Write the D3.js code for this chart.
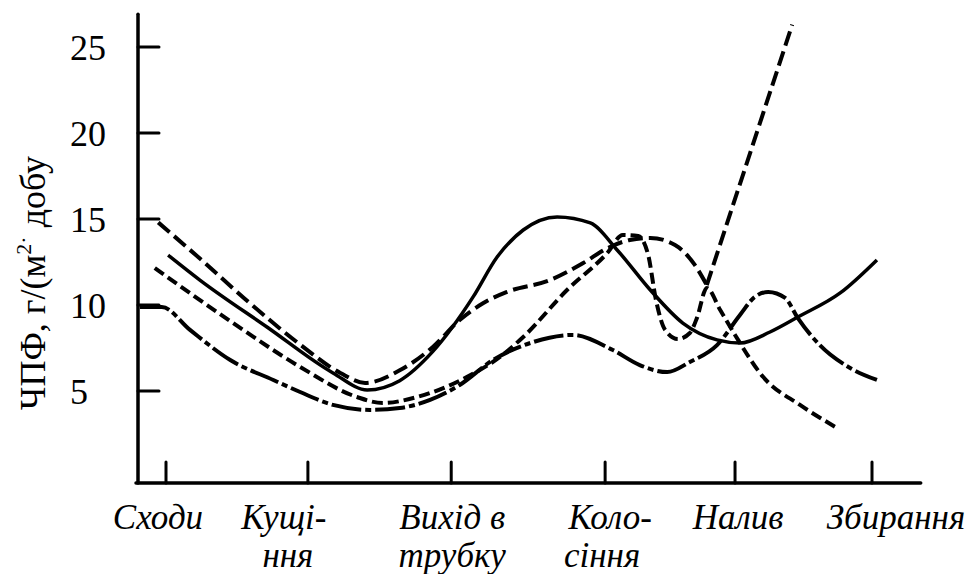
<!DOCTYPE html>
<html><head><meta charset="utf-8">
<script src="https://cdn.jsdelivr.net/npm/d3@7"></script>
<style>
html,body{margin:0;padding:0;background:#fff;}
svg{display:block;}
text{font-family:"Liberation Serif","Times New Roman",serif;fill:#000;}
</style></head>
<body>
<svg id="chart" width="970" height="574"></svg>
<script>
// ---------------- DATA ----------------
const stageLabels = [["Сходи"], ["Кущі-", "ння"], ["Вихід в", "трубку"], ["Коло-", "сіння"], ["Налив"], ["Збирання"]];
const stagePos = [0, 20.1, 40.4, 62.2, 80.6, 100];
const yTicks = [5, 10, 15, 20, 25];
const yTitle = "ЧПФ, г/(м";

// series A: long dash (ends in steep rise)
const seriesA_x = [-1.1, 4.8, 11.9, 19.0, 24.7, 28.2, 33.1, 37.8, 41.6, 44.9, 48.3, 54.4, 59.1, 62.5, 65.7, 68.6, 72.1, 74.9, 76.6, 88.7];
const seriesA_y = [14.8, 12.7, 10.1, 7.7, 6.05, 5.47, 6.2, 7.56, 9.13, 10.1, 10.76, 11.45, 12.44, 13.3, 13.78, 13.9, 13.49, 12.33, 11.16, 26.3];
const seriesA_kink = 18;

// series B: solid
const seriesB_x = [0.3, 4.8, 14.3, 23.65, 28.5, 33.1, 37.8, 43.5, 46.9, 50.6, 55.4, 60.1, 63.9, 68.6, 73.2, 78.05, 81.3, 85.55, 89.5, 95.5, 100.7];
const seriesB_y = [12.9, 11.45, 8.72, 6.05, 5.06, 5.6, 7.3, 10.47, 12.79, 14.36, 15.12, 14.77, 13.2, 10.87, 8.95, 7.97, 7.79, 8.43, 9.3, 10.7, 12.62];

// series C: medium dash
const seriesC_x = [-1.6, 9.5, 19.0, 27.05, 30.7, 35.55, 42.6, 47.3, 50.6, 56.8, 62.5, 64.7, 66.9, 68.3, 69.4, 70.7, 72.5, 74.2, 75.2, 76.6, 78.5, 80.6, 84.6, 89.8, 94.8];
const seriesC_y = [12.15, 8.95, 6.4, 4.65, 4.3, 4.65, 5.81, 6.98, 8.14, 10.87, 13.02, 14.07, 14.01, 12.91, 10.29, 8.55, 8.02, 8.37, 9.24, 10.99, 9.71, 8.26, 5.81, 4.19, 2.91];

// series D: dash-dot
const seriesD_x = [-3.7, -0.6, 3.4, 9.1, 15.2, 19.0, 23.65, 28.9, 33.1, 37.4, 41.6, 46.3, 51.6, 57.65, 63.3, 67.1, 71.0, 74.2, 78.05, 81.3, 83.4, 85.3, 87.7, 89.5, 92.6, 96.9, 100.7];
const seriesD_y = [9.88, 9.88, 8.55, 6.8, 5.64, 4.94, 4.19, 3.9, 4.01, 4.48, 5.35, 6.8, 7.79, 8.26, 7.38, 6.51, 6.1, 6.69, 7.67, 9.42, 10.47, 10.76, 10.41, 9.24, 7.67, 6.34, 5.64];

// ---------------- LAYOUT ----------------
const svg = d3.select("#chart");
const x = d3.scaleLinear().domain([0, 100]).range([166, 872]);
const y = d3.scaleLinear().domain([0, 25]).range([477, 47]);
const xAxisY = 483, yAxisX = 138;

const zip = (xs, ys) => xs.map((v, i) => [v, ys[i]]);
const lineM = d3.line().x(d => x(d[0])).y(d => y(d[1])).curve(d3.curveMonotoneX);
const lineL = d3.line().x(d => x(d[0])).y(d => y(d[1])).curve(d3.curveLinear);

// axes
const axG = svg.append("g").attr("stroke", "#000").attr("fill", "none").attr("stroke-linecap", "round");
axG.append("line").attr("x1", yAxisX).attr("x2", yAxisX).attr("y1", y(26.9)).attr("y2", xAxisY).attr("stroke-width", 3.5);
axG.append("line").attr("x1", yAxisX - 2).attr("x2", x(106.9)).attr("y1", xAxisY).attr("y2", xAxisY).attr("stroke-width", 3.5);
axG.selectAll(".yt").data(yTicks).enter().append("line")
  .attr("x1", yAxisX).attr("x2", yAxisX + 21).attr("y1", d => y(d)).attr("y2", d => y(d)).attr("stroke-width", 3);
axG.selectAll(".xt").data(stagePos).enter().append("line")
  .attr("x1", d => x(d)).attr("x2", d => x(d)).attr("y1", xAxisY - 21).attr("y2", xAxisY).attr("stroke-width", 3);

// y tick labels
svg.selectAll(".ytl").data(yTicks).enter().append("text")
  .attr("x", 70).attr("y", d => y(d)).attr("dy", "0.35em")
  .attr("font-size", 36).text(d => d);

// y title
const tt = svg.append("text").attr("transform", "translate(45,410) rotate(-90)")
  .attr("font-size", 36).attr("text-anchor", "start");
tt.append("tspan").text(yTitle);
tt.append("tspan").attr("dy", -14).attr("font-size", 22).text("2·");
tt.append("tspan").attr("dy", 14).text(" добу");

// x labels
const labelDx = [-8, -24, 1, 5, 3, 24];
const lg = svg.selectAll(".xl").data(stageLabels).enter().append("text")
  .attr("font-size", 35).attr("font-style", "italic").attr("text-anchor", "middle");
lg.each(function (lines, i) {
  const t = d3.select(this);
  lines.forEach((s, j) => {
    t.append("tspan").attr("x", x(stagePos[i]) + labelDx[i] + (j === 1 && i === 3 ? -8 : 0) + (j === 1 && i === 1 ? 4 : 0))
      .attr("y", 529 + j * 38).text(s);
  });
});

// series
const g = svg.append("g").attr("fill", "none").attr("stroke", "#000").attr("stroke-linecap", "butt").attr("stroke-linejoin", "round");
const A = zip(seriesA_x, seriesA_y);
g.append("path").attr("d", lineM(A.slice(0, seriesA_kink + 1))).attr("stroke-width", 4).attr("stroke-dasharray", "15,6");
g.append("path").attr("d", lineL(A.slice(seriesA_kink))).attr("stroke-width", 4).attr("stroke-dasharray", "15,6");
g.append("path").attr("d", lineM(zip(seriesB_x, seriesB_y))).attr("stroke-width", 3.5);
g.append("path").attr("d", lineM(zip(seriesC_x, seriesC_y))).attr("stroke-width", 4).attr("stroke-dasharray", "11,5");
g.append("path").attr("d", lineM(zip(seriesD_x, seriesD_y))).attr("stroke-width", 4).attr("stroke-dasharray", "30,4,6,4");
</script>
</body></html>
